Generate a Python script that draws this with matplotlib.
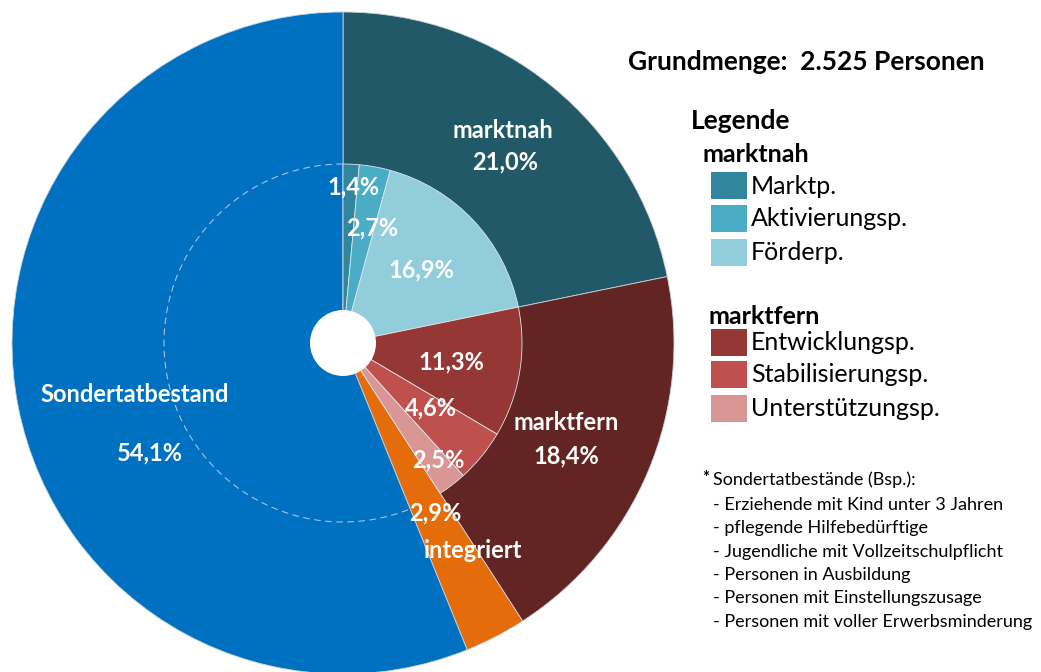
import matplotlib
matplotlib.use("Agg")
import matplotlib.pyplot as plt
from matplotlib.patches import Rectangle, Arc, Circle

plt.rcParams['font.family'] = ['Lato', 'DejaVu Sans']

# ---- data ----
outer_labels = ["marktnah", "marktfern", "integriert", "Sondertatbestand"]
outer_values = [21.0, 18.4, 2.9, 54.1]
outer_colors = ["#215968", "#632523", "#E46C0A", "#0070C0"]

inner_labels = ["Marktp.", "Aktivierungsp.", "Förderp.",
                "Entwicklungsp.", "Stabilisierungsp.", "Unterstützungsp.",
                "integriert", "Sondertatbestand"]
inner_values = [1.4, 2.7, 16.9, 11.3, 4.6, 2.5, 2.9, 54.1]
inner_colors = ["#31859C", "#4BACC6", "#92CDDC",
                "#953735", "#C0504D", "#D99694", "none", "none"]

title_text = "Grundmenge:  2.525 Personen"
footnote_title = "Sondertatbestände (Bsp.):"
footnote_items = ["- Erziehende mit Kind unter 3 Jahren",
                  "- pflegende Hilfebedürftige",
                  "- Jugendliche mit Vollzeitschulpflicht",
                  "- Personen in Ausbildung",
                  "- Personen mit Einstellungszusage",
                  "- Personen mit voller Erwerbsminderung"]

W, H = 1041, 672
fig = plt.figure(figsize=(W / 100, H / 100), dpi=100)

# pie axes: center (343,343) px, radius 331 px
cx, cy, R = 343, 343, 331
ax = fig.add_axes([(cx - R) / W, (H - cy - R) / H, 2 * R / W, 2 * R / H])

r_in = 179 / R
wedges_o, _ = ax.pie(outer_values, colors=outer_colors, startangle=90, counterclock=False,
                     radius=1.0, wedgeprops=dict(edgecolor="#c8d4dc", linewidth=0.6))
wedges_i, _ = ax.pie(inner_values, colors=["white"] * len(inner_values), startangle=90,
                     counterclock=False, radius=r_in,
                     wedgeprops=dict(edgecolor="#e0e6ea", linewidth=0.6))
for w, c in zip(wedges_i, inner_colors):
    if c == "none":
        w.set_visible(False)
    else:
        w.set_facecolor(c)
ax.set_xlim(-1, 1)
ax.set_ylim(-1, 1)
ax.set_aspect('equal')
ax.axis('off')

# dashed inner boundary across the Sondertatbestand area
wb = wedges_i[-1]
ax.add_patch(Arc((0, 0), 2 * r_in, 2 * r_in, theta1=wb.theta1, theta2=wb.theta2,
                 color="#9fc3e6", lw=0.8, ls=(0, (6, 4))))
# centre hole
ax.add_patch(Circle((0, 0), 33 / R, facecolor="white", edgecolor="none", zorder=5))


def px(x, y):
    return ((x - cx) / R, (cy - y) / R)


lab_kw = dict(color="white", fontweight="bold", fontsize=17, ha="center", va="center", zorder=6)
pie_texts = [
    ("marktnah", 503, 130), ("21,0%", 505, 162),
    ("1,4%", 354, 187), ("2,7%", 372, 228), ("16,9%", 421, 270),
    ("11,3%", 451, 362), ("4,6%", 431, 408), ("2,5%", 438, 460),
    ("2,9%", 435, 513), ("integriert", 473, 550),
    ("marktfern", 566, 423), ("18,4%", 566, 456),
    ("Sondertatbestand", 135, 394), ("54,1%", 150, 453),
]
for t, x, y in pie_texts:
    ax.text(*px(x, y), t, **lab_kw)

# overlay axes in pixel coords for legend etc.
ov = fig.add_axes([0, 0, 1, 1])
ov.set_xlim(0, W)
ov.set_ylim(H, 0)
ov.axis('off')
ov.patch.set_alpha(0)

ov.text(628, 62, title_text, fontsize=19, fontweight="bold", ha="left", va="center")
ov.text(691, 121, "Legende", fontsize=19, fontweight="bold", ha="left", va="center")
ov.text(703, 155, "marktnah", fontsize=18, fontweight="bold", ha="left", va="center")
ov.text(708, 316, "marktfern", fontsize=18, fontweight="bold", ha="left", va="center")

leg_rows = [(0, 172), (1, 205), (2, 239), (3, 329), (4, 361), (5, 395)]
for idx, ytop in leg_rows:
    ov.add_patch(Rectangle((711, ytop), 36, 27, facecolor=inner_colors[idx], edgecolor="none"))
    ov.text(751, ytop + 14, inner_labels[idx], fontsize=18, ha="left", va="center")

ov.text(706, 478, "*", fontsize=12, fontweight="bold", ha="center", va="center")
ov.text(713, 480, footnote_title, fontsize=13, ha="left", va="center")
for i, s in enumerate(footnote_items):
    ov.text(713, 505 + i * 23.3, s, fontsize=13, ha="left", va="center")

fig.savefig("out.png", dpi=100)
